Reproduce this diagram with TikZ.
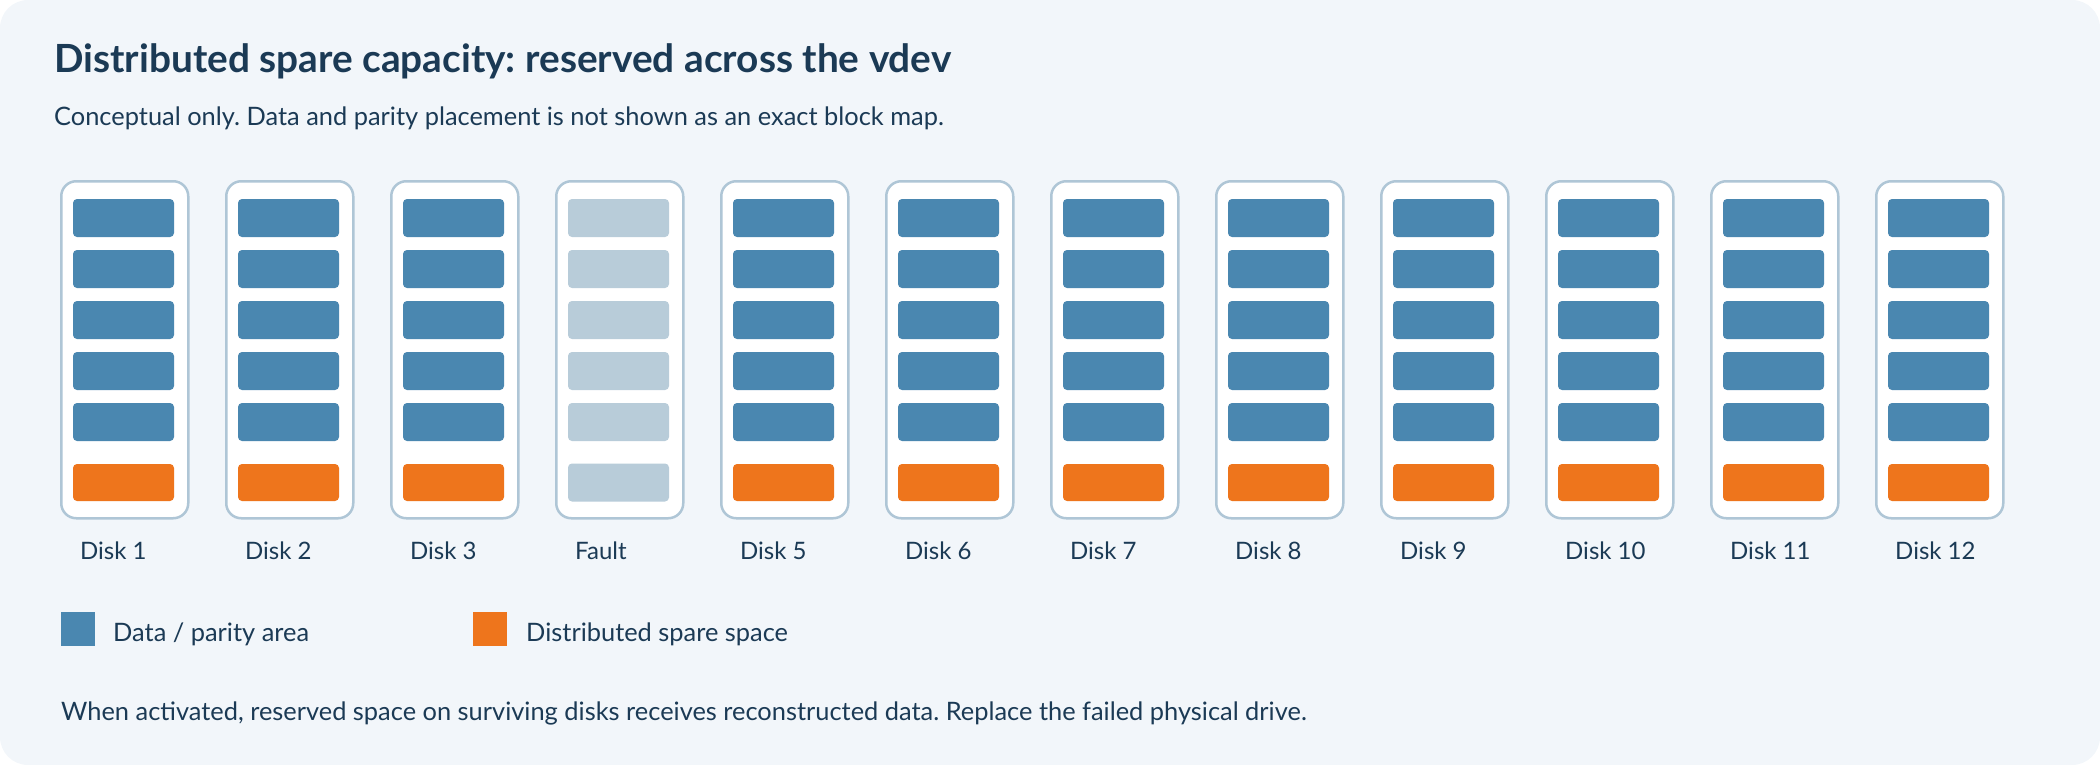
\documentclass[tikz,border=0pt]{standalone}
\usepackage{fontspec}
\setmainfont{Lato}
\usepackage{tikz}
\usetikzlibrary{positioning}
\frenchspacing
\definecolor{mybg}{RGB}{242,246,250}
\definecolor{mytext}{RGB}{27,58,85}
\definecolor{myblue}{RGB}{74,135,176}
\definecolor{myorange}{RGB}{238,117,28}
\definecolor{myfaded}{RGB}{184,204,217}
\definecolor{myedge}{RGB}{175,198,214}
\tikzset{
  disk/.style={rectangle, draw=myedge, fill=white, line width=2.5pt,
    rounded corners=15pt, minimum width=127pt, minimum height=337pt, inner sep=0pt},
  datablock/.style={rectangle, fill=myblue, rounded corners=4pt,
    minimum width=101pt, minimum height=38pt, inner sep=0pt},
  spareblock/.style={datablock, fill=myorange, minimum height=37pt},
  deadblock/.style={datablock, fill=myfaded},
  txt/.style={inner sep=0pt, anchor=base west, text=mytext,
    font=\fontsize{25.4pt}{30pt}\selectfont},
  swatch/.style={rectangle, minimum size=34pt, inner sep=0pt, anchor=north west}
}

\begin{document}
\begin{tikzpicture}[x=1pt, y=-1pt]
  \useasboundingbox (0,0) rectangle (2100,765);
  \fill[mybg, rounded corners=28pt] (0,0) rectangle (2100,765);

  % Heading
  \node[txt, font=\fontsize{38.8pt}{44pt}\selectfont\bfseries] (title) at (54,73)
    {Distributed spare capacity: reserved across the vdev};
  \node[txt] (subtitle) at (54,125)
    {Conceptual only. Data and parity placement is not shown as an exact block map.};

  % Disks
  \foreach \i in {1,...,12} {
    \ifnum\i=4
      \def\blk{deadblock}\def\spr{deadblock}\def\dname{Fault}
    \else
      \def\blk{datablock}\def\spr{spareblock}\def\dname{Disk \i}
    \fi
    \node[disk, anchor=north west] (disk\i) at ({60+(\i-1)*165},180) {};
    \foreach \j in {1,...,5}
      \node[\blk] (blk\i-\j) at ({123.5+(\i-1)*165},{218+(\j-1)*51}) {};
    \node[\spr] (spare\i) at ({123.5+(\i-1)*165},482.5) {};
    \node[txt, font=\fontsize{24pt}{28pt}\selectfont] (name\i) at ({80+(\i-1)*165},559) {\dname};
  }

  % Legend
  \node[swatch, fill=myblue] (keydata) at (60.5,612) {};
  \node[txt] (keydatatxt) at (113,641) {Data / parity area};
  \node[swatch, fill=myorange] (keyspare) at (472.5,612) {};
  \node[txt] (keysparetxt) at (526,641) {Distributed spare space};

  % Note
  \node[txt] (note) at (61,720)
    {When activated, reserved space on surviving disks receives reconstructed data. Replace the failed physical drive.};
\end{tikzpicture}
\end{document}
